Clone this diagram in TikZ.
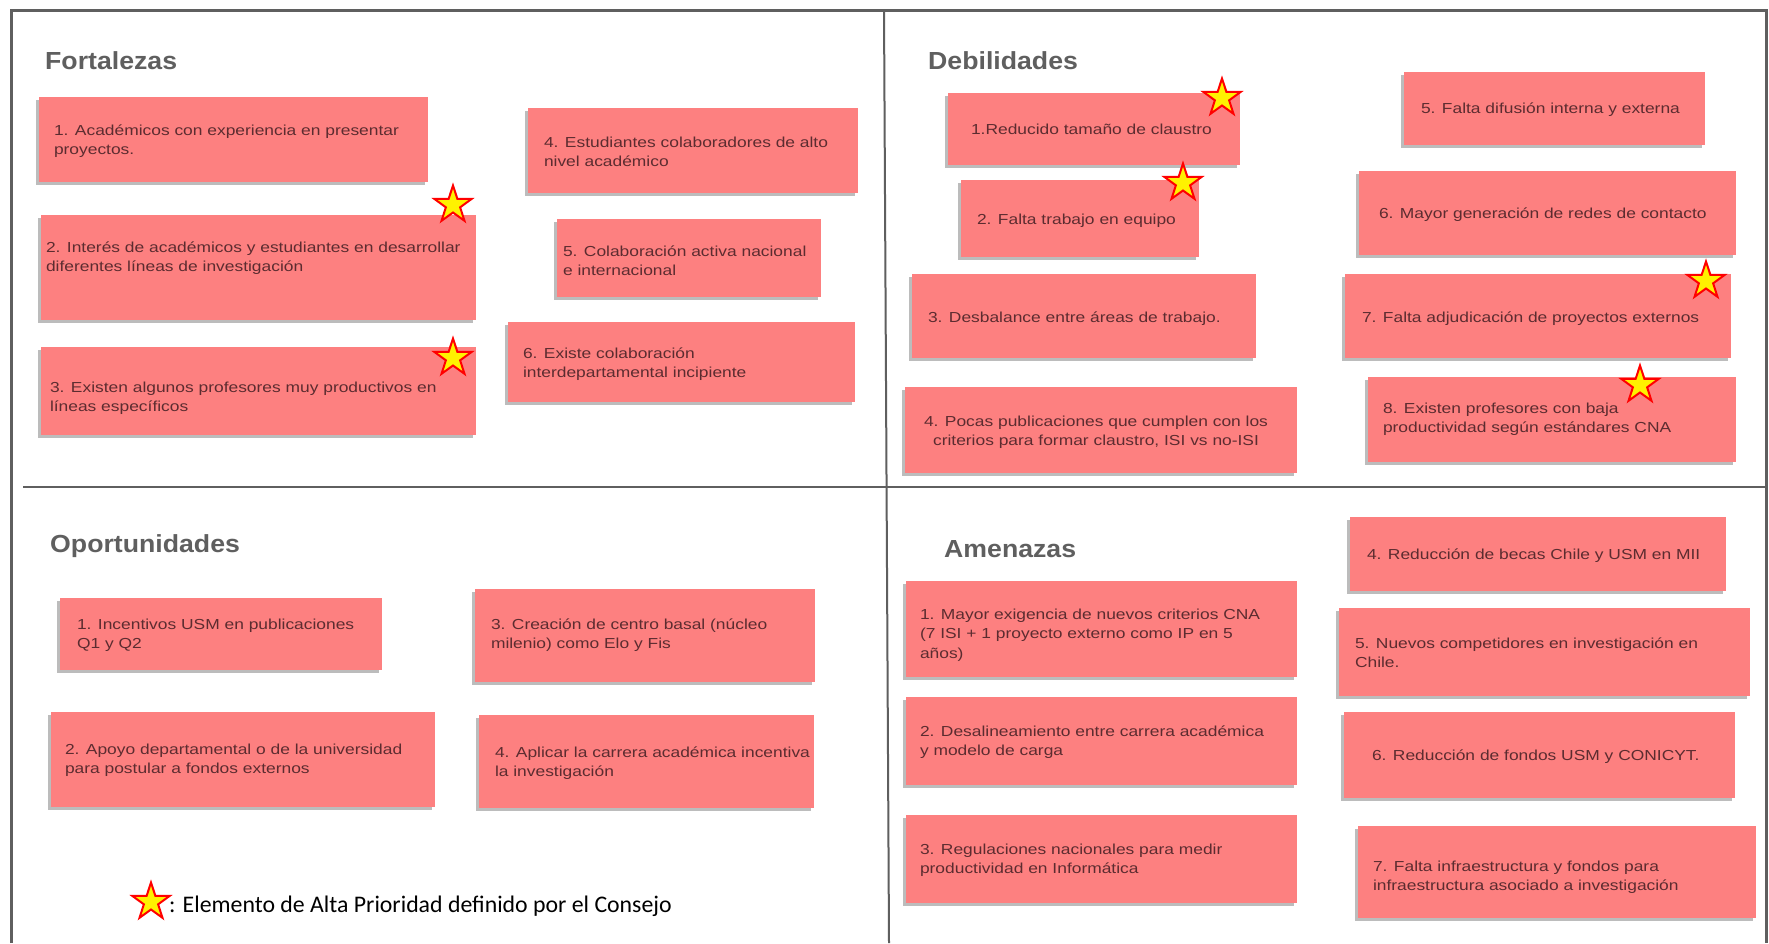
\documentclass[tikz,border=0pt]{standalone}
\usepackage{fontspec}
\setmainfont{Liberation Sans}
\newfontfamily\notefont[FakeStretch=1.2]{Liberation Sans}
\newfontfamily\titlefont[FakeStretch=1.08]{Liberation Sans}
\newfontfamily\legfont{Carlito}
\usetikzlibrary{shapes.geometric,shadows}
\definecolor{notefill}{RGB}{253,128,128}
\definecolor{notetext}{RGB}{92,44,48}
\definecolor{framegray}{RGB}{95,95,95}
\definecolor{titlegray}{RGB}{95,95,95}
\tikzset{
  note/.style={fill=notefill, draw=none, inner sep=0,
    drop shadow={shadow xshift=-3, shadow yshift=3, opacity=0.4, fill=black!65}},
  txt/.style={inner sep=0, outer sep=0, align=left, text=notetext,
    font=\notefont\fontsize{14.5}{19.5}\selectfont},
  ctxt/.style={txt, align=center},
  ttl/.style={inner sep=0, anchor=base west, text=titlegray,
    font=\titlefont\bfseries\fontsize{24.7}{28}\selectfont},
  prio/.style={star, star points=5, star point ratio=2.6, minimum size=39,
    inner sep=0, fill=yellow, draw=red, line width=2},
  frame/.style={draw=framegray, line width=3},
  divider/.style={draw=framegray, line width=2},
}
\newcommand\notebox[5]{\node[note, minimum width={#4-#2}, minimum height={#5-#3}] (#1) at ({(#2+#4)/2},{(#3+#5)/2}) {};}
\begin{document}
\begin{tikzpicture}[x=1pt,y=-1pt]
\useasboundingbox[fill=white] (0,0) rectangle (1769,943);
% frame and dividers
\draw[frame] (11,943) -- (11,10) -- (1766,10) -- (1766,943);
\draw[divider] (884,10) -- (889,943);
\draw[divider] (23,487) -- (1766,487);
% titles
\node[ttl] (tF) at (45,69) {Fortalezas};
\node[ttl] (tD) at (928,69) {Debilidades};
\node[ttl] (tO) at (50,552) {Oportunidades};
\node[ttl] (tA) at (944,557) {Amenazas};
% Fortalezas (base anchor = baseline of the last line)
\notebox{f1}{39}{97}{428}{182}
\node[txt, anchor=base west] (f1t) at (54,154.5) {1. Académicos con experiencia en presentar\\proyectos.};
\notebox{f4}{528}{108}{858}{193}
\node[txt, anchor=base west] (f4t) at (544,166.5) {4. Estudiantes colaboradores de alto\\nivel académico};
\notebox{f2}{41}{215}{476}{320}
\node[txt, anchor=base west] (f2t) at (46,271.5) {2. Interés de académicos y estudiantes en desarrollar\\diferentes líneas de investigación};
\notebox{f5}{557}{219}{821}{297}
\node[txt, anchor=base west] (f5t) at (563,275.5) {5. Colaboración activa nacional\\e internacional};
\notebox{f3}{41}{347}{476}{435}
\node[txt, anchor=base west] (f3t) at (50,411.5) {3. Existen algunos profesores muy productivos en\\líneas específicos};
\notebox{f6}{508}{322}{855}{402}
\node[txt, anchor=base west] (f6t) at (523,377.5) {6. Existe colaboración\\interdepartamental incipiente};
\node[prio] (sf2) at (453,205) {};
\node[prio] (sf3) at (453,358) {};
% Debilidades
\notebox{d1}{948}{93}{1240}{165}
\node[txt, anchor=base west] (d1t) at (971,134) {1.Reducido tamaño de claustro};
\notebox{d5}{1404}{72}{1705}{145}
\node[txt, anchor=base west] (d5t) at (1421,113) {5. Falta difusión interna y externa};
\notebox{d2}{961}{180}{1199}{257}
\node[txt, anchor=base west] (d2t) at (977,224) {2. Falta trabajo en equipo};
\notebox{d6}{1359}{171}{1736}{255}
\node[txt, anchor=base west] (d6t) at (1379,218) {6. Mayor generación de redes de contacto};
\notebox{d3}{912}{274}{1256}{358}
\node[txt, anchor=base west] (d3t) at (928,322) {3. Desbalance entre áreas de trabajo.};
\notebox{d7}{1345}{274}{1731}{358}
\node[txt, anchor=base west] (d7t) at (1362,322) {7. Falta adjudicación de proyectos externos};
\notebox{d4}{905}{387}{1297}{473}
\node[ctxt, anchor=base] (d4t) at (1096,445.5) {4. Pocas publicaciones que cumplen con los\\criterios para formar claustro, ISI vs no-ISI};
\notebox{d8}{1368}{377}{1736}{462}
\node[txt, anchor=base west] (d8t) at (1383,432.5) {8. Existen profesores con baja\\productividad según estándares CNA};
\node[prio] (sd1) at (1222,98) {};
\node[prio] (sd2) at (1183,183) {};
\node[prio] (sd7) at (1706,281) {};
\node[prio] (sd8) at (1640,385) {};
% Oportunidades
\notebox{o1}{60}{598}{382}{670}
\node[txt, anchor=base west] (o1t) at (77,648.5) {1. Incentivos USM en publicaciones\\Q1 y Q2};
\notebox{o3}{475}{589}{815}{682}
\node[txt, anchor=base west] (o3t) at (491,648.5) {3. Creación de centro basal (núcleo\\milenio) como Elo y Fis};
\notebox{o2}{51}{712}{435}{807}
\node[txt, anchor=base west] (o2t) at (65,773.5) {2. Apoyo departamental o de la universidad\\para postular a fondos externos};
\notebox{o4}{479}{715}{814}{808}
\node[txt, anchor=base west] (o4t) at (495,776.5) {4. Aplicar la carrera académica incentiva\\la investigación};
% Amenazas
\notebox{a4}{1350}{517}{1726}{591}
\node[txt, anchor=base west] (a4t) at (1367,559) {4. Reducción de becas Chile y USM en MII};
\notebox{a1}{906}{581}{1297}{677}
\node[txt, anchor=base west] (a1t) at (920,658) {1. Mayor exigencia de nuevos criterios CNA\\(7 ISI + 1 proyecto externo como IP en 5\\años)};
\notebox{a5}{1339}{608}{1750}{696}
\node[txt, anchor=base west] (a5t) at (1355,667.5) {5. Nuevos competidores en investigación en\\Chile.};
\notebox{a2}{906}{697}{1297}{785}
\node[txt, anchor=base west] (a2t) at (920,755.5) {2. Desalineamiento entre carrera académica\\y modelo de carga};
\notebox{a6}{1344}{712}{1735}{798}
\node[txt, anchor=base west] (a6t) at (1372,760) {6. Reducción de fondos USM y CONICYT.};
\notebox{a3}{906}{815}{1297}{903}
\node[txt, anchor=base west] (a3t) at (920,873.5) {3. Regulaciones nacionales para medir\\productividad en Informática};
\notebox{a7}{1358}{826}{1756}{918}
\node[txt, anchor=base west] (a7t) at (1373,890.5) {7. Falta infraestructura y fondos para\\infraestructura asociado a investigación};
% legend
\node[prio] (leg) at (151,902) {};
\node[inner sep=0, anchor=base west, font=\legfont\fontsize{23.8}{26}\selectfont] (legt) at (169,912) {: Elemento de Alta Prioridad definido por el Consejo};
\end{tikzpicture}
\end{document}
